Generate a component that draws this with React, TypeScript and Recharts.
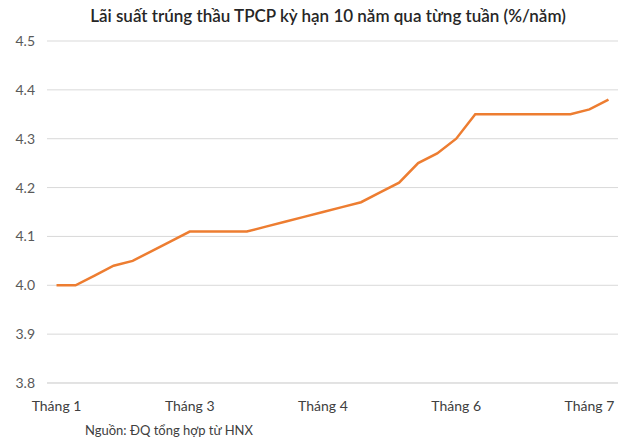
import { LineChart, Line, XAxis, YAxis, CartesianGrid } from 'recharts'

const weeks = Array.from({ length: 30 }, (_, i) => i)

const rates = [
  4.0, 4.0, 4.02, 4.04, 4.05, 4.07, 4.09, 4.11, 4.11, 4.11,
  4.11, 4.12, 4.13, 4.14, 4.15, 4.16, 4.17, 4.19, 4.21, 4.25,
  4.27, 4.3, 4.35, 4.35, 4.35, 4.35, 4.35, 4.35, 4.36, 4.38,
]

// month labels sit on every 7th week, tick marks between weeks
const monthLabels = ['Tháng 1', 'Tháng 3', 'Tháng 4', 'Tháng 6', 'Tháng 7']
const labelWeeks = [0, 7, 14, 21, 28]
const markWeeks = labelWeeks.map((w) => w - 0.5)

const yTicks = [3.8, 3.9, 4.0, 4.1, 4.2, 4.3, 4.4, 4.5]

const data = weeks.map((w, i) => ({ week: w, rate: rates[i] }))

const FONT = 'Lato, "Open Sans", sans-serif'

function MonthTick(props: any) {
  const { x, y, payload } = props
  const idx = labelWeeks.indexOf(payload.value)
  return (
    <text x={x} y={y + 20} textAnchor="middle" fontSize={14} fill="#404040" fontFamily={FONT}>
      {monthLabels[idx]}
    </text>
  )
}

export default function App() {
  return (
    <div style={{ position: 'absolute', left: 0, top: 0, width: 640, height: 447, background: '#fff', fontFamily: FONT }}>
      <div style={{ position: 'absolute', left: 0, width: 656, top: 5, textAlign: 'center', fontSize: 17, fontWeight: 600, color: '#262626' }}>
        Lãi suất trúng thầu TPCP kỳ hạn 10 năm qua từng tuần (%/năm)
      </div>
      <LineChart width={640} height={447} data={data} margin={{ top: 41, right: 22, bottom: 34, left: 0 }}>
        <CartesianGrid vertical={false} stroke="#d9d9d9" />
        <XAxis
          xAxisId="marks"
          dataKey="week"
          type="number"
          domain={[-0.5, 29.5]}
          ticks={markWeeks}
          tickFormatter={() => ''}
          axisLine={false}
          stroke="#cfcfcf"
          tickSize={5}
          height={0}
        />
        <XAxis
          dataKey="week"
          type="number"
          domain={[-0.5, 29.5]}
          ticks={labelWeeks}
          tick={<MonthTick />}
          tickLine={false}
          stroke="#d9d9d9"
          height={30}
        />
        <YAxis
          domain={[3.8, 4.5]}
          ticks={yTicks}
          width={47}
          axisLine={false}
          tickLine={false}
          tickFormatter={(v: number) => v.toFixed(1)}
          tick={{ fontSize: 14, fill: '#595959', fontFamily: FONT }}
          tickMargin={6}
        />
        <Line
          type="linear"
          dataKey="rate"
          stroke="#ED7D31"
          strokeWidth={2.5}
          dot={false}
          isAnimationActive={false}
        />
      </LineChart>
      <div style={{ position: 'absolute', left: 85, top: 422, fontSize: 13, color: '#404040' }}>
        Nguồn: ĐQ tổng hợp từ HNX
      </div>
    </div>
  )
}
